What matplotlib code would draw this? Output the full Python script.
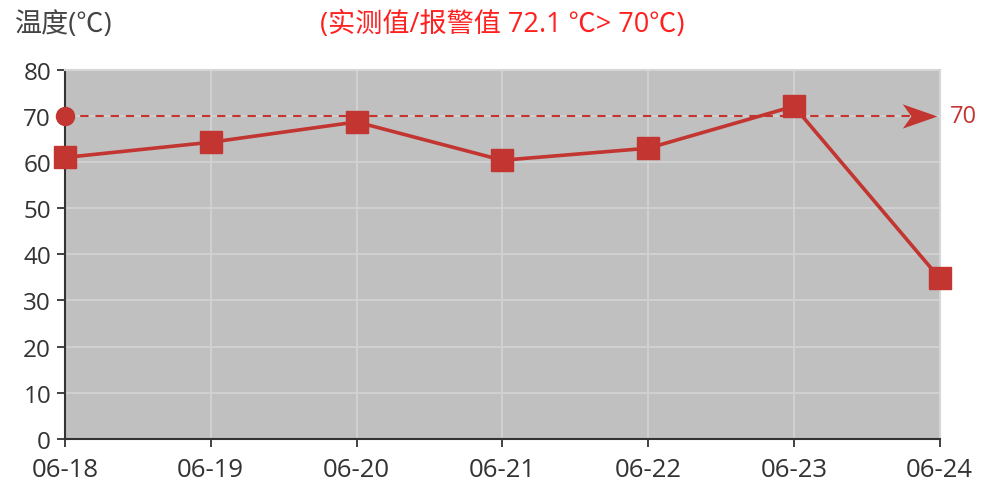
import matplotlib.pyplot as plt
from matplotlib.path import Path

plt.rcParams['font.family'] = ['Open Sans', 'Noto Sans CJK SC', 'DejaVu Sans']

# data
dates = ['06-18', '06-19', '06-20', '06-21', '06-22', '06-23', '06-24']
temps = [61.0, 64.3, 68.7, 60.4, 63.0, 72.1, 34.8]
alarm = 70
yticks = [0, 10, 20, 30, 40, 50, 60, 70, 80]

red = '#c23531'
axis_col = '#333333'

# echarts style arrow head, tip at the origin
arrow = Path([(0, 0), (-2, 0.7), (-1.5, 0), (-2, -0.7), (0, 0)],
             [Path.MOVETO, Path.LINETO, Path.LINETO, Path.LINETO, Path.CLOSEPOLY])

fig = plt.figure(figsize=(9.84, 4.85), dpi=100)
ax = fig.add_axes([0.066, 0.093, 0.889, 0.761])
ax.set_facecolor('#c0c0c0')

x = list(range(len(dates)))
ax.plot(x, temps, color=red, lw=2.6, marker='s', ms=16, clip_on=False, zorder=4)

# alarm mark line
ax.plot([x[0], x[-1] - 0.2], [alarm, alarm], color=red, lw=1.5, ls=(0, (4, 3.3)), zorder=3)
ax.plot([x[0]], [alarm], 'o', color=red, ms=13, clip_on=False, zorder=5)
ax.plot([x[-1] - 0.02], [alarm], marker=arrow, color=red, ms=50, mew=0,
        clip_on=False, zorder=5)
ax.text(x[-1] + 0.07, alarm, str(alarm), color=red, fontsize=17,
        va='center', ha='left')

ax.set_xlim(x[0], x[-1])
ax.set_ylim(0, 80)
ax.set_xticks(x)
ax.set_xticklabels(dates)
ax.set_yticks(yticks)

ax.grid(True, color='#d2d2d2', lw=1.3)
ax.set_axisbelow(True)
for s in ['top', 'right']:
    ax.spines[s].set_color('#d6d6d6')
    ax.spines[s].set_linewidth(1.5)
for s in ['left', 'bottom']:
    ax.spines[s].set_color(axis_col)
    ax.spines[s].set_linewidth(1.5)
ax.tick_params(colors=axis_col, length=6, width=1.3, pad=4)
ax.tick_params(axis='y', labelsize=17.5)
ax.tick_params(axis='x', labelsize=18.5, pad=7)

fig.text(0.014, 0.948, '温度(℃)', color='#444444', fontsize=19.5, ha='left', va='center')
fig.text(0.51, 0.948, '(实测值/报警值 72.1 ℃> 70℃)', color='#ff2020',
         fontsize=19.5, ha='center', va='center')

fig.savefig('out.png', dpi=100)
